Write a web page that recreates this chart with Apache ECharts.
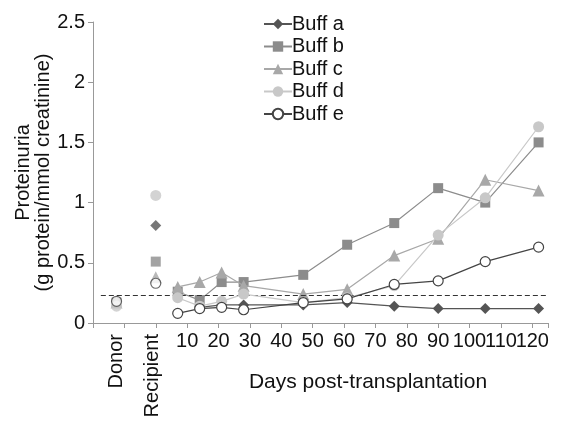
<!DOCTYPE html>
<html><head><meta charset="utf-8">
<script src="https://cdn.jsdelivr.net/npm/echarts@6/dist/echarts.min.js"></script>
<style>html,body{margin:0;padding:0;background:#fff}#c{width:566px;height:421px}</style>
</head><body><div id="c"></div>
<script>
// Baseline groups (categorical, placed before the day axis)
const baseLabels = ['Donor', 'Recipient'];
const basePos = [-12.5, 0];
const baseLabelPos = [-12.5, -1];
// Days post-transplantation
const days = [7, 14, 21, 28, 47, 61, 76, 90, 105, 122];
const dayTicks = [10, 20, 30, 40, 50, 60, 70, 80, 90, 100, 110, 120];
const yTicks = [0, 0.5, 1, 1.5, 2, 2.5];
const threshold = 0.23;

const seriesNames = ['Buff a', 'Buff b', 'Buff c', 'Buff d', 'Buff e'];
// Donor / Recipient values per buffalo
const baseA = [0.18, 0.81];
const baseB = [0.17, 0.51];
const baseC = [0.17, 0.38];
const baseD = [0.14, 1.06];
const baseE = [0.18, 0.33];
// Time course values (null = not measured)
const buffA = [null, 0.13, 0.15, 0.15, 0.15, 0.17, 0.14, 0.12, 0.12, 0.12];
const buffB = [0.26, 0.19, 0.34, 0.34, 0.40, 0.65, 0.83, 1.12, 1.00, 1.50];
const buffC = [0.30, 0.34, 0.42, 0.31, 0.24, 0.28, 0.56, 0.70, 1.19, 1.10];
const buffD = [0.21, 0.14, 0.18, 0.24, 0.17, 0.21, 0.31, 0.73, 1.04, 1.63];
const buffE = [0.08, 0.12, 0.13, 0.11, 0.17, 0.20, 0.32, 0.35, 0.51, 0.63];

const styles = [
  {symbol: 'diamond', size: 11, color: '#555555', fill: '#555555'},
  {symbol: 'rect', size: 10, color: '#8c8c8c', fill: '#8c8c8c'},
  {symbol: 'triangle', size: 12, color: '#a8a8a8', fill: '#a8a8a8'},
  {symbol: 'circle', size: 11, color: '#c8c8c8', fill: '#c8c8c8'},
  {symbol: 'circle', size: 10, color: '#444444', fill: '#ffffff'}
];
const lineVals = [buffA, buffB, buffC, buffD, buffE];
const baseVals = [baseA, baseB, baseC, baseD, baseE];

const FONT = 'Liberation Sans, Arial, Helvetica, sans-serif';
const FS = 20;
const series = [];
seriesNames.forEach((n, i) => {
  const st = styles[i];
  const data = [];
  days.forEach((d, j) => { if (lineVals[i][j] !== null) data.push([d, lineVals[i][j]]); });
  const s = {
    name: n, type: 'line', data: data,
    symbol: st.symbol, symbolSize: st.size,
    lineStyle: {color: st.color, width: 1.2},
    itemStyle: {color: st.fill, borderColor: st.color, borderWidth: i === 4 ? 1.2 : 0},
    z: 2 + i
  };
  if (i === 0) {
    s.markLine = {
      silent: true, symbol: 'none', label: {show: false},
      lineStyle: {color: '#333', type: [5, 3], width: 1.2},
      data: [[{coord: [-17.5, threshold]}, {coord: [124.5, threshold]}]]
    };
  }
  series.push(s);
});
seriesNames.forEach((n, i) => {
  const st = styles[i];
  series.push({
    name: n, type: 'scatter',
    data: basePos.map((p, j) => [p, baseVals[i][j]]),
    symbol: st.symbol, symbolSize: st.size,
    itemStyle: {color: st.fill, borderColor: st.color, borderWidth: i === 4 ? 1.2 : 0},
    z: 2 + i
  });
});

// Tick labels split over two overlaid axes so that touching labels are all kept
const ticksOdd = dayTicks.filter((t, i) => i % 2 === 0);
const ticksEven = dayTicks.filter((t, i) => i % 2 === 1);
const hiddenAxis = {
  type: 'value', min: -20, max: 125, position: 'bottom',
  axisLine: {show: false}, axisTick: {show: false}, splitLine: {show: false}
};

const chart = echarts.init(document.getElementById('c'), null, {renderer: 'canvas'});
chart.setOption({
  animation: false,
  textStyle: {fontFamily: FONT},
  grid: {left: 93, right: 18, top: 22, bottom: 98, containLabel: false},
  legend: {
    orient: 'vertical', left: 258, top: 9,
    itemWidth: 28, itemHeight: 13, itemGap: 2.5,
    textStyle: {fontSize: FS, color: '#111', fontFamily: FONT, padding: [0, 0, 0, -5]},
    data: seriesNames
  },
  xAxis: [{
    type: 'value', min: -20, max: 125, interval: 10,
    axisLine: {onZero: false, lineStyle: {color: '#999', width: 1}},
    axisTick: {show: true, length: 5, inside: false, lineStyle: {color: '#999'}},
    splitLine: {show: false},
    axisLabel: {customValues: ticksOdd, fontSize: FS, color: '#111', margin: 8,
      showMaxLabel: true, showMinLabel: true, hideOverlap: false},
    name: 'Days post-transplantation', nameLocation: 'middle', nameGap: 49,
    nameMoveOverlap: false,
    nameTextStyle: {fontSize: 21, color: '#111', padding: [0, 0, 0, 95]}
  }, Object.assign({}, hiddenAxis, {
    axisLabel: {customValues: ticksEven, fontSize: FS, color: '#111', margin: 8,
      showMaxLabel: true, showMinLabel: true, hideOverlap: false}
  }), Object.assign({}, hiddenAxis, {
    axisLabel: {
      customValues: baseLabelPos, rotate: 90, fontSize: FS, color: '#111', margin: 11,
      showMaxLabel: true, showMinLabel: true, hideOverlap: false,
      formatter: v => baseLabels[baseLabelPos.indexOf(v)] || ''
    }
  })],
  yAxis: {
    type: 'value', min: 0, max: 2.5, interval: 0.5,
    axisLine: {show: true, onZero: false, lineStyle: {color: '#999'}},
    axisTick: {show: true, length: 5, lineStyle: {color: '#999'}},
    splitLine: {show: false},
    axisLabel: {fontSize: FS, color: '#111', margin: 8,
      formatter: v => yTicks.indexOf(v) >= 0 ? String(v) : ''},
    name: 'Proteinuria\n(g protein/mmol creatinine)', nameLocation: 'middle', nameGap: 40,
    nameMoveOverlap: false,
    nameTextStyle: {fontSize: FS, color: '#111', lineHeight: 20}
  },
  series: series
});
</script></body></html>
